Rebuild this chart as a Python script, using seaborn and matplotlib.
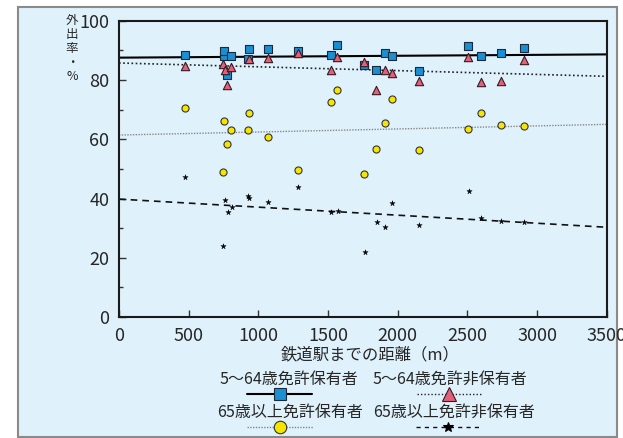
import matplotlib
matplotlib.use("Agg")
import matplotlib.pyplot as plt
import seaborn as sns
import pandas as pd
from matplotlib.lines import Line2D
from matplotlib.patches import Rectangle

# data
# 5~64歳 免許保有者
hold_young_x = [471, 750, 753, 773, 807, 925, 930, 1067, 1286, 1523, 1566, 1757, 1845, 1905, 1957, 2150, 2507, 2596, 2738, 2904]
hold_young_y = [88.3, 87.9, 89.8, 81.5, 88.2, 87.0, 90.4, 90.3, 89.7, 88.3, 91.6, 85.1, 83.5, 89.1, 87.9, 83.1, 91.3, 88.2, 89.1, 90.8]
# 5~64歳 免許非保有者
non_young_x = [471, 744, 759, 773, 807, 930, 1067, 1286, 1523, 1566, 1757, 1845, 1905, 1957, 2150, 2507, 2596, 2738, 2904]
non_young_y = [84.6, 85.2, 83.4, 78.2, 84.3, 87.2, 87.4, 89.1, 83.5, 87.6, 86.0, 76.6, 83.5, 82.2, 79.6, 87.6, 79.2, 79.5, 86.6]
# 65歳以上 免許保有者
hold_old_x = [471, 750, 744, 773, 807, 930, 924, 1067, 1286, 1523, 1566, 1757, 1845, 1905, 1957, 2150, 2507, 2596, 2738, 2904]
hold_old_y = [70.6, 66.2, 49.1, 58.4, 63.2, 68.9, 63.1, 60.7, 49.7, 72.5, 76.7, 48.1, 56.6, 65.3, 73.5, 56.5, 63.6, 68.9, 64.7, 64.6]
# 65歳以上 免許非保有者
non_old_x = [471, 744, 759, 779, 813, 928, 933, 1070, 1286, 1523, 1569, 1763, 1848, 1911, 1960, 2156, 2510, 2596, 2741, 2907]
non_old_y = [47.2, 23.9, 39.4, 35.6, 37.1, 40.8, 40.2, 38.7, 44.0, 35.3, 35.8, 21.9, 32.0, 30.3, 38.4, 30.9, 42.5, 33.5, 32.4, 32.1]

# trend lines (end points)
trend_x = [0, 3500]
trend_hold_young = [87.5, 88.6]
trend_non_young = [85.7, 81.2]
trend_hold_old = [61.4, 65.0]
trend_non_old = [39.8, 30.3]

labels = ["5～64歳免許保有者", "5～64歳免許非保有者", "65歳以上免許保有者", "65歳以上免許非保有者"]
x_ticks = [0, 500, 1000, 1500, 2000, 2500, 3000, 3500]
y_ticks = [0, 20, 40, 60, 80, 100]

bg = "#dff1fb"
blue = "#1a8fd2"
pink = "#e26079"
yellow = "#f6e500"

sns.set_theme(style="ticks")
plt.rcParams["font.family"] = ["Liberation Sans Narrow", "Noto Sans CJK JP", "DejaVu Sans"]

fig = plt.figure(figsize=(6.23, 4.38), dpi=100)
fig.patch.set_facecolor("white")
fig.patches.append(Rectangle((0.029, 0.002), 0.961, 0.982, transform=fig.transFigure,
                             facecolor=bg, edgecolor="#8a8a8a", lw=1.5, zorder=-5))

ax = fig.add_axes([0.191, 0.276, 0.783, 0.677])
ax.set_facecolor(bg)

# trend lines
sns.lineplot(x=trend_x, y=trend_hold_young, color="black", lw=1.5, ax=ax)
sns.lineplot(x=trend_x, y=trend_non_young, color="#222222", lw=1.2, linestyle=(0, (1, 1.5)), ax=ax)
sns.lineplot(x=trend_x, y=trend_hold_old, color="#888888", lw=1.0, linestyle=(0, (1, 1)), ax=ax)
sns.lineplot(x=trend_x, y=trend_non_old, color="#111111", lw=1.2, linestyle=(0, (4, 3)), ax=ax)

# points
sns.scatterplot(x=hold_young_x, y=hold_young_y, marker="s", s=28, color=blue, edgecolor="#1a2a3a", linewidth=0.8, ax=ax, zorder=3)
sns.scatterplot(x=non_young_x, y=non_young_y, marker="^", s=36, color=pink, edgecolor="#3a1a22", linewidth=0.8, ax=ax, zorder=4)
sns.scatterplot(x=hold_old_x, y=hold_old_y, marker="o", s=26, color=yellow, edgecolor="#333333", linewidth=0.8, ax=ax, zorder=3)
sns.scatterplot(x=non_old_x, y=non_old_y, marker="*", s=16, color="black", edgecolor="black", linewidth=0.3, ax=ax, zorder=3)

ax.set_xlim(0, 3500)
ax.set_ylim(0, 100)
ax.set_xticks(x_ticks)
ax.set_yticks(y_ticks)
ax.set_yticks([10, 30, 50, 70, 90], minor=True)
ax.tick_params(axis="both", which="major", direction="in", length=5, width=1, labelsize=13, pad=7, color="#333333")
ax.tick_params(axis="y", which="minor", direction="in", length=3, width=1, color="#333333")
for sp in ax.spines.values():
    sp.set_visible(True)
    sp.set_color("#1a1a1a")
    sp.set_linewidth(1.5)
ax.set_xlabel("")
ax.set_ylabel("")

# axis titles
fig.text(0.594, 0.19, "鉄道駅までの距離（m）", ha="center", va="center", fontsize=11.8,
         family=["Noto Sans CJK JP", "DejaVu Sans"])
fig.text(72 / 623, 1 - 14 / 438, "外\n出\n率\n・\n%", ha="center", va="top", fontsize=9,
         linespacing=1.1, family=["Noto Sans CJK JP", "DejaVu Sans"])

# legend drawn by hand: text above, sample below
entries = [
    (289, 379, 247, 312, 280, 394, dict(color="black", lw=1.5, ls="-"), dict(marker="s", ms=8, mfc=blue, mec="#1a2a3a")),
    (450, 379, 417, 482, 449, 394, dict(color="#222222", lw=1.0, ls=(0, (1, 1.5))), dict(marker="^", ms=10, mfc=pink, mec="#3a1a22")),
    (290, 412, 247, 313, 280, 427, dict(color="#888888", lw=1.0, ls=(0, (1, 1))), dict(marker="o", ms=9, mfc=yellow, mec="#333333")),
    (454, 412, 416, 481, 448, 427, dict(color="#111111", lw=1.0, ls=(0, (3, 3))), dict(marker="*", ms=7, mfc="black", mec="black")),
]
for lab, (tx, ty, x0, x1, mx, my, lkw, mkw) in zip(labels, entries):
    fig.text(tx / 623, 1 - ty / 438, lab, ha="center", va="center", fontsize=11.5)
    fig.add_artist(Line2D([x0 / 623, x1 / 623], [1 - my / 438, 1 - my / 438], transform=fig.transFigure, **lkw))
    fig.add_artist(Line2D([mx / 623], [1 - my / 438], transform=fig.transFigure, ls="none", mew=0.8, **mkw))

fig.savefig("out.png", dpi=100, facecolor=fig.get_facecolor())
